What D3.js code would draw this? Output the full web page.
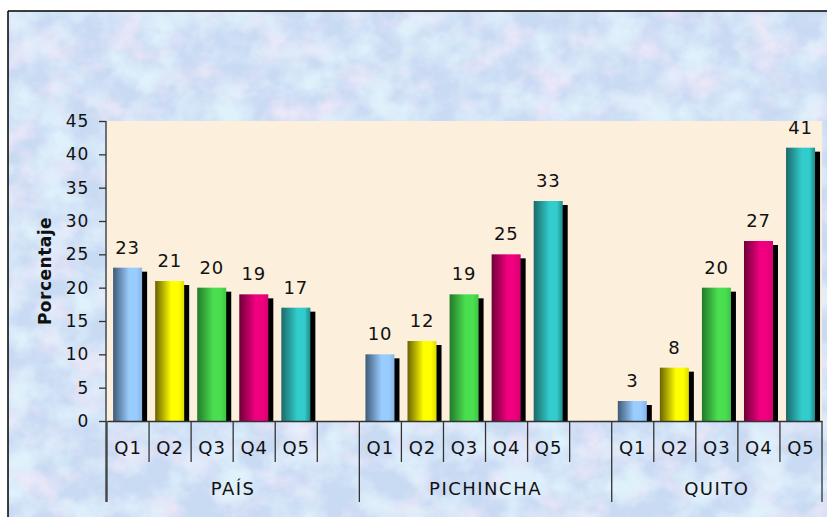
<!DOCTYPE html>
<html><head><meta charset="utf-8">
<script src="https://cdn.jsdelivr.net/npm/d3@7"></script>
<style>html,body{margin:0;padding:0;background:#fff;}svg{display:block;}</style>
</head><body>
<script>
const groups = ["PAÍS", "PICHINCHA", "QUITO"];
const quintiles = ["Q1", "Q2", "Q3", "Q4", "Q5"];
const paisValues = [23, 21, 20, 19, 17];
const pichinchaValues = [10, 12, 19, 25, 33];
const quitoValues = [3, 8, 20, 27, 41];
const yTicks = [0, 5, 10, 15, 20, 25, 30, 35, 40, 45];
const yLabel = "Porcentaje";
const seriesValues = [paisValues, pichinchaValues, quitoValues];

const W = 827, H = 517;
const FONT = "DejaVu Sans, Verdana, sans-serif";
const colors = {
  Q1: {dark: "#3f5a78", base: "#99CCFF", edge: "#86b6e6"},
  Q2: {dark: "#6a6200", base: "#FFFF00", edge: "#e0dc00"},
  Q3: {dark: "#237a2a", base: "#4ADF50", edge: "#3fc546"},
  Q4: {dark: "#6e0038", base: "#F0007F", edge: "#d60070"},
  Q5: {dark: "#1a6a6a", base: "#33CCCC", edge: "#1f8a8a"}
};

const slots = [];
groups.forEach((g, gi) => {
  quintiles.forEach((q, qi) => slots.push({key: g + "|" + q, group: g, q, value: seriesValues[gi][qi]}));
  if (gi < groups.length - 1) slots.push({key: "gap" + gi, group: g, q: "", value: null});
});

const svg = d3.select("body").append("svg").attr("width", W).attr("height", H);
const defs = svg.append("defs");

// textured background
const f = defs.append("filter").attr("id", "tex").attr("x", 0).attr("y", 0).attr("width", "100%").attr("height", "100%");
f.append("feTurbulence").attr("type", "fractalNoise").attr("baseFrequency", "0.028 0.032").attr("numOctaves", 4).attr("seed", 11).attr("result", "n");
f.append("feColorMatrix").attr("in", "n").attr("type", "matrix")
  .attr("values", "0 0 0 0 0.88  0 0 0 0 0.82  0 0 0 0 0.95  2.2 0 0 0 -0.95").attr("result", "pink");
f.append("feColorMatrix").attr("in", "n").attr("type", "matrix")
  .attr("values", "0 0 0 0 0.74  0 0 0 0 0.89  0 0 0 0 0.97  0 2.4 0 0 -0.95").attr("result", "cyan");
f.append("feMerge").call(m => { m.append("feMergeNode").attr("in", "pink"); m.append("feMergeNode").attr("in", "cyan"); });

svg.append("rect").attr("x", 8).attr("y", 11).attr("width", W - 8).attr("height", H - 11).attr("fill", "#c9daf3");
svg.append("rect").attr("x", 8).attr("y", 11).attr("width", W - 8).attr("height", H - 11).attr("filter", "url(#tex)");
svg.append("line").attr("x1", 8).attr("x2", W).attr("y1", 11).attr("y2", 11).attr("stroke", "#000").attr("stroke-width", 1.5);
svg.append("line").attr("x1", 8).attr("x2", 8).attr("y1", 11).attr("y2", H).attr("stroke", "#000").attr("stroke-width", 1.5);

const x0 = 107, x1 = 822, yTop = 121, yBot = 421;
const x = d3.scaleBand().domain(slots.map(d => d.key)).range([x0, x1]).padding(0);
const y = d3.scaleLinear().domain([0, 45]).range([yBot, yTop]);
const bw = x.bandwidth();

svg.append("rect").attr("x", x0).attr("y", yTop).attr("width", x1 - x0).attr("height", yBot - yTop).attr("fill", "#fcefdc");

quintiles.forEach(q => {
  const c = colors[q];
  const g = defs.append("linearGradient").attr("id", "g" + q).attr("x1", 0).attr("x2", 1).attr("y1", 0).attr("y2", 0);
  g.append("stop").attr("offset", 0).attr("stop-color", c.dark);
  g.append("stop").attr("offset", 0.55).attr("stop-color", c.base);
  g.append("stop").attr("offset", 0.8).attr("stop-color", c.base);
  g.append("stop").attr("offset", 1).attr("stop-color", c.edge);
});

const bars = slots.filter(d => d.value !== null);
const barW = bw * 0.69, barOff = bw * 0.145;
svg.append("g").selectAll("rect").data(bars).join("rect")
  .attr("x", d => x(d.key) + barOff + 5).attr("y", d => y(d.value) + 4)
  .attr("width", barW).attr("height", d => yBot - y(d.value) - 4).attr("fill", "#000");
svg.append("g").selectAll("rect").data(bars).join("rect")
  .attr("x", d => x(d.key) + barOff).attr("y", d => y(d.value))
  .attr("width", barW).attr("height", d => yBot - y(d.value)).attr("fill", d => `url(#g${d.q})`);

svg.append("g").selectAll("text").data(bars).join("text")
  .attr("x", d => x(d.key) + barOff + barW / 2).attr("y", d => y(d.value) - 14)
  .attr("text-anchor", "middle").attr("font-family", FONT).attr("font-size", 18).attr("letter-spacing", 0.8)
  .attr("fill", "#111").text(d => d.value);

const ya = svg.append("g").attr("transform", "translate(106,0)")
  .call(d3.axisLeft(y).tickValues(yTicks).tickSize(7).tickSizeOuter(0).tickPadding(10));
ya.selectAll("text").attr("font-family", FONT).attr("font-size", 17).attr("letter-spacing", 0.8).attr("fill", "#111");
ya.selectAll("line,path").attr("stroke", "#333").attr("stroke-width", 1.3);
ya.select(".domain").remove();
svg.append("line").attr("x1", 106).attr("x2", 106).attr("y1", yTop).attr("y2", 502).attr("stroke", "#333").attr("stroke-width", 1.3);

svg.append("text").attr("transform", `translate(51,${(yTop + yBot) / 2}) rotate(-90)`)
  .attr("text-anchor", "middle").attr("font-family", FONT).attr("font-weight", "bold")
  .attr("font-size", 17).attr("letter-spacing", 0.5).attr("fill", "#111").text(yLabel);

const xa = svg.append("g").attr("transform", `translate(0,${yBot})`)
  .call(d3.axisBottom(x).tickSize(0).tickPadding(20).tickFormat(k => slots.find(d => d.key === k).q));
xa.select(".domain").attr("stroke", "#333").attr("stroke-width", 1.3);
xa.selectAll("text").attr("font-family", FONT).attr("font-size", 18).attr("fill", "#111").attr("letter-spacing", 1);

const bounds = slots.map(d => x(d.key)).concat([x1]);
const groupBounds = [0, 6, 12, 17];
svg.append("g").selectAll("line").data(bounds).join("line")
  .attr("x1", d => d).attr("x2", d => d).attr("y1", yBot)
  .attr("y2", (d, i) => groupBounds.includes(i) ? 502 : 462)
  .attr("stroke", "#333").attr("stroke-width", 1.3);

svg.append("g").selectAll("text").data(groups).join("text")
  .attr("x", (g, i) => (bounds[groupBounds[i]] + bounds[groupBounds[i + 1]]) / 2)
  .attr("y", 495).attr("text-anchor", "middle")
  .attr("font-family", FONT).attr("font-size", 18).attr("fill", "#111").attr("letter-spacing", 1.5)
  .text(g => g);
</script>
</body></html>
